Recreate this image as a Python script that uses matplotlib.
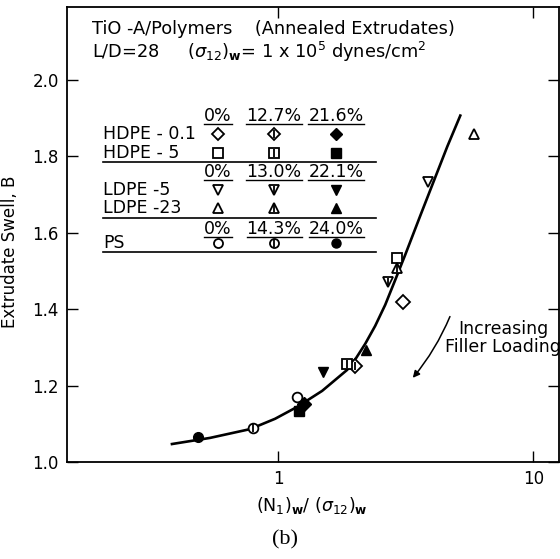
import matplotlib
matplotlib.use("Agg")
import matplotlib.pyplot as plt
from matplotlib.lines import Line2D
from matplotlib.ticker import NullLocator
from matplotlib.transforms import IdentityTransform

# smooth curve drawn through the data
curve_x = [0.384, 0.541, 0.777, 0.973, 1.187, 1.488, 1.865, 2.022, 2.194, 2.401,
           2.628, 2.876, 3.148, 3.605, 4.091, 4.600, 5.173]
curve_y = [1.047, 1.063, 1.086, 1.113, 1.144, 1.186, 1.241, 1.272, 1.309, 1.356,
           1.411, 1.476, 1.542, 1.644, 1.738, 1.825, 1.906]

# measured points, order: unfilled, mid loading, high loading
hdpe01_x = [3.09, 2.00, 1.265]
hdpe01_y = [1.419, 1.250, 1.152]
hdpe5_x = [2.93, 1.87, 1.21]
hdpe5_y = [1.534, 1.257, 1.134]
ldpe5_x = [3.87, 2.70, 1.50]
ldpe5_y = [1.733, 1.471, 1.236]
ldpe23_x = [5.87, 2.93, 2.21]
ldpe23_y = [1.859, 1.508, 1.293]
ps_x = [1.19, 0.80, 0.486]
ps_y = [1.170, 1.089, 1.065]

loadings = [["0%", "12.7%", "21.6%"], ["0%", "13.0%", "22.1%"], ["0%", "14.3%", "24.0%"]]
polymers = [["HDPE - 0.1", "HDPE - 5"], ["LDPE -5", "LDPE -23"], ["PS"]]
shapes = [["D", "s"], ["v", "^"], ["o"]]

y_ticks = [1.0, 1.2, 1.4, 1.6, 1.8, 2.0]
x_ticks = [1, 10]
x_tick_labels = ["1", "10"]

series = [(hdpe01_x, hdpe01_y, "D"), (hdpe5_x, hdpe5_y, "s"),
          (ldpe5_x, ldpe5_y, "v"), (ldpe23_x, ldpe23_y, "^"),
          (ps_x, ps_y, "o")]

plt.rcParams["font.family"] = "DejaVu Sans"
FS = 12.5

fig = plt.figure(figsize=(5.6, 5.59), dpi=100)
# axes box in pixels: left 67, right 559, top 7, bottom 462
AX_L, AX_R, AX_T, AX_B = 67, 559, 7, 462
W, H = 560, 559
ax = fig.add_axes([AX_L / W, 1 - AX_B / H, (AX_R - AX_L) / W, (AX_B - AX_T) / H])


def px(x, y):
    """pixel position in the picture -> axes fraction"""
    return (x - AX_L) / (AX_R - AX_L), (AX_B - y) / (AX_B - AX_T)


def marker(x, y, shape, level, ms=7, **kw):
    if level == 2:
        ax.plot(x, y, marker=shape, ms=ms, color="k", ls="none", **kw)
    else:
        ax.plot(x, y, marker=shape, ms=ms, mfc="white", mec="k", mew=1.3, ls="none", **kw)
        if level == 1:
            ax.plot(x, y, marker="|", ms=ms * 0.8, mec="k", mew=1.3, ls="none", **kw)


ax.plot(curve_x, curve_y, color="k", lw=1.9, zorder=2, solid_joinstyle="round")
for xs, ys, shape in series:
    for lev in range(3):
        marker(xs[lev], ys[lev], shape, lev, zorder=3)

ax.set_xscale("log")
ax.set_xlim(0.149, 12.6)
ax.set_ylim(1.0, 2.19)
ax.set_xticks(x_ticks)
ax.set_xticklabels(x_tick_labels)
ax.xaxis.set_minor_locator(NullLocator())
ax.set_yticks(y_ticks)
ax.set_yticklabels([f"{v:.1f}" for v in y_ticks])
ax.tick_params(direction="in", length=8, width=1, top=True, right=True,
               labelsize=12, pad=6)
for s in ax.spines.values():
    s.set_linewidth(1.3)

ax.set_ylabel("Extrudate Swell, B", fontsize=12)
ax.yaxis.set_label_coords(-0.097, px(0, 252)[1])
ax.set_xlabel(r"(N$_1$)$_\mathbf{w}$/ ($\sigma_{12}$)$_\mathbf{w}$", fontsize=FS)
ax.xaxis.set_label_coords(px(312, 0)[0], -0.072)

fig.text(285 / W, 1 - 540 / H, "(b)", family="Liberation Serif", fontsize=16,
         ha="center", va="center")

# title text
ax.text(*px(92, 29), "TiO -A/Polymers    (Annealed Extrudates)", transform=ax.transAxes,
        fontsize=12.8, va="center")
ax.text(*px(92, 52), r"L/D=28     ($\sigma_{12}$)$_\mathbf{w}$= 1 x 10$^5$ dynes/cm$^2$",
        transform=ax.transAxes, fontsize=12.8, va="center")

# legend table
header_y = [116, 172, 229]
row_y = [[134, 153], [190, 208], [243]]
rule_y = [162, 218, 252]
col_x = [218, 274, 336]
header_texts = []
for g in range(3):
    for c in range(3):
        t = ax.text(*px(col_x[c], header_y[g]), loadings[g][c], transform=ax.transAxes,
                    fontsize=FS, ha="center", va="center")
        header_texts.append(t)
    for r, name in enumerate(polymers[g]):
        ax.text(*px(103, row_y[g][r]), name, transform=ax.transAxes, fontsize=FS,
                va="center")
        for c in range(3):
            marker(*px(col_x[c], row_y[g][r]), shapes[g][r], c, ms=6.5,
                   transform=ax.transAxes, clip_on=False)
    x0, y0 = px(103, rule_y[g])
    x1, _ = px(376, rule_y[g])
    ax.plot([x0, x1], [y0, y0], color="k", lw=1.2, transform=ax.transAxes)

# arrow + label
ax.annotate("", xy=px(411, 380), xytext=px(451, 314), xycoords="axes fraction",
            textcoords="axes fraction",
            arrowprops=dict(arrowstyle="-|>", color="k", lw=1.1,
                            connectionstyle="arc3,rad=-0.08", mutation_scale=10))
ax.text(*px(503, 338), "Increasing\nFiller Loading", transform=ax.transAxes,
        fontsize=FS, ha="center", va="center", linespacing=1.05)

# underline the loading headers
fig.canvas.draw()
rend = fig.canvas.get_renderer()
for t in header_texts:
    bb = t.get_window_extent(rend)
    fig.add_artist(Line2D([bb.x0, bb.x1], [bb.y0 + 1, bb.y0 + 1], color="k", lw=1,
                          transform=IdentityTransform()))

fig.savefig("out.png", dpi=100)
